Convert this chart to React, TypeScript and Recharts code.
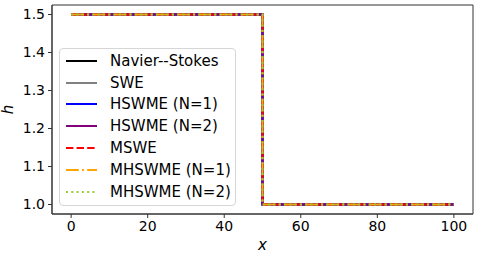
import React from "react";
import { LineChart, Line, XAxis, YAxis, ReferenceArea } from "recharts";

const xs = [0, 50, 50, 100];
const navierStokes = [1.5, 1.5, 1.0, 1.0];
const swe = [1.5, 1.5, 1.0, 1.0];
const hswme1 = [1.5, 1.5, 1.0, 1.0];
const hswme2 = [1.5, 1.5, 1.0, 1.0];
const mswe = [1.5, 1.5, 1.0, 1.0];
const mhswme1 = [1.5, 1.5, 1.0, 1.0];
const mhswme2 = [1.5, 1.5, 1.0, 1.0];
const xTicks = [0, 20, 40, 60, 80, 100];
const yTicks = [1.0, 1.1, 1.2, 1.3, 1.4, 1.5];
const xDomain = [-5, 105];
const yDomain = [0.975, 1.525];

const series = [
  { key: "ns", name: "Navier--Stokes", values: navierStokes, color: "#000000", dash: undefined },
  { key: "swe", name: "SWE", values: swe, color: "#808080", dash: undefined },
  { key: "h1", name: "HSWME (N=1)", values: hswme1, color: "#0000ff", dash: undefined },
  { key: "h2", name: "HSWME (N=2)", values: hswme2, color: "#800080", dash: undefined },
  { key: "mswe", name: "MSWE", values: mswe, color: "#ff0000", dash: "7.4 3.2" },
  { key: "m1", name: "MHSWME (N=1)", values: mhswme1, color: "#ffa500", dash: "12.8 3.2 2 3.2" },
  { key: "m2", name: "MHSWME (N=2)", values: mhswme2, color: "#9acd32", dash: "2 3.3" },
];

const data = xs.map((x, i) => {
  const row: any = { x };
  series.forEach((s) => (row[s.key] = s.values[i]));
  return row;
});

const FONT = "'DejaVu Sans', sans-serif";
const AX = "#333333";

const LegendBox = () => (
  <div
    style={{
      position: "absolute",
      left: 59,
      top: 48,
      border: "1px solid #d6d6d6",
      borderRadius: 4,
      background: "rgba(255,255,255,0.85)",
      padding: "1px 6px 2px 5px",
      fontFamily: FONT,
      fontSize: 15,
      color: "#000",
      width: 177,
      boxSizing: "border-box",
    }}
  >
    {series.map((s) => (
      <div key={s.key} style={{ display: "flex", alignItems: "center", height: 21.8 }}>
        <svg width={33} height={10} style={{ marginRight: 12, flex: "none" }}>
          <line x1={1} y1={5} x2={32} y2={5} stroke={s.color} strokeWidth={2} strokeDasharray={s.dash} />
        </svg>
        <span style={{ whiteSpace: "nowrap" }}>{s.name}</span>
      </div>
    ))}
  </div>
);

export default function App() {
  return (
    <div style={{ position: "fixed", left: 0, top: 0, width: 478, height: 257, background: "#fff" }}>
      <LineChart width={478} height={257} data={data} margin={{ top: 5, right: 5, left: 0, bottom: 0 }}>
        <XAxis
          dataKey="x"
          type="number"
          domain={xDomain}
          ticks={xTicks}
          height={43}
          stroke={AX}
          tickSize={4}
          tick={{ fontSize: 14, fontFamily: FONT, fill: "#000" }}
          tickMargin={3}
          label={{ value: "x", position: "insideBottom", offset: 7, style: { fontSize: 15, fontStyle: "italic", fontFamily: FONT, fill: "#000" } }}
        />
        <YAxis
          type="number"
          domain={yDomain}
          ticks={yTicks}
          width={52}
          stroke={AX}
          tickSize={4}
          tickFormatter={(v: number) => v.toFixed(1)}
          tick={{ fontSize: 14, fontFamily: FONT, fill: "#000" }}
          tickMargin={3}
          label={{ value: "h", angle: -90, position: "insideLeft", offset: 8, style: { fontSize: 15, fontStyle: "italic", fontFamily: FONT, fill: "#000", textAnchor: "middle" } }}
        />
        <ReferenceArea x1={xDomain[0]} x2={xDomain[1]} y1={yDomain[0]} y2={yDomain[1]} fill="none" stroke={AX} strokeWidth={1} ifOverflow="visible" />
        {series.map((s) => (
          <Line
            key={s.key}
            dataKey={s.key}
            name={s.name}
            stroke={s.color}
            strokeWidth={2}
            strokeDasharray={s.dash}
            dot={false}
            isAnimationActive={false}
            type="linear"
          />
        ))}
      </LineChart>
      <LegendBox />
    </div>
  );
}
